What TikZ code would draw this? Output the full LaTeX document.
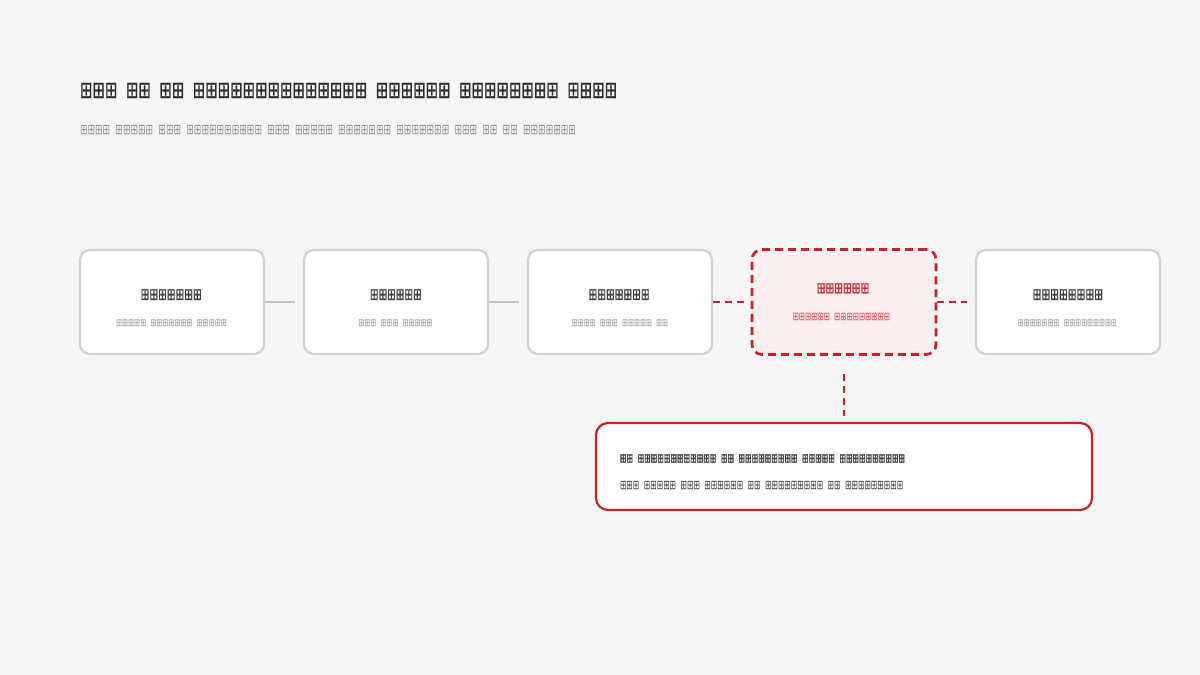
\documentclass[tikz,border=0pt]{standalone}
\usepackage{fontspec}
\usepackage{graphicx}
\setmainfont{DejaVu Sans}
\newfontfamily\tofu[WordSpace=1.8]{DejaVu Sans}
\newfontfamily\tofub[WordSpace=1.8,FakeBold=1.5]{DejaVu Sans}
\definecolor{bgc}{HTML}{F6F6F6}
\definecolor{cardline}{HTML}{D2D2D2}
\definecolor{linkgray}{HTML}{C2C2C2}
\definecolor{accent}{HTML}{C9202F}
\definecolor{hotfill}{HTML}{FCEFF0}
\definecolor{inkdark}{HTML}{2E2E2E}
\definecolor{inkmid}{HTML}{404040}
\definecolor{inkgray}{HTML}{959595}
\definecolor{inkred}{HTML}{D0303F}
\definecolor{inkredlight}{HTML}{DA4A57}
\newcommand\fitted[3]{\resizebox*{#1}{#2}{#3}}
\begin{document}
\begin{tikzpicture}[x=1pt,y=-1pt,
  stagebox/.style={draw=cardline, line width=2.2pt, fill=white, rounded corners=10pt,
    minimum width=184pt, minimum height=104pt, inner sep=0pt},
  hotbox/.style={stagebox, draw=accent, fill=hotfill, line width=2.7pt,
    dash pattern=on 8pt off 5pt, minimum width=184pt, minimum height=105pt},
  callbox/.style={draw=accent, line width=2.2pt, fill=white, rounded corners=12pt,
    minimum width=496pt, minimum height=87pt, inner sep=0pt},
  txt/.style={inner sep=0pt, outer sep=0pt},
  link/.style={draw=linkgray, line width=2.6pt},
  hotlink/.style={draw=accent, line width=2.8pt, dash pattern=on 7pt off 5pt}]
\useasboundingbox (0,0) rectangle (1200,675);
\fill[bgc] (0,0) rectangle (1200,675);

% heading
\node[txt, anchor=west, text=inkdark] (title) at (80,90.5)
  {\fitted{537pt}{15pt}{\tofub ⊞⊞⊞ ⊞⊞ ⊞⊞ ⊞⊞⊞⊞⊞⊞⊞⊞⊞⊞⊞⊞⊞⊞ ⊞⊞⊞⊞⊞⊞ ⊞⊞⊞⊞⊞⊞⊞⊞ ⊞⊞⊞⊞}};
\node[txt, anchor=west, text=inkgray] (subtitle) at (80,130.3)
  {\fitted{496pt}{9.3pt}{\tofu ⊞⊞⊞⊞ ⊞⊞⊞⊞⊞ ⊞⊞⊞ ⊞⊞⊞⊞⊞⊞⊞⊞⊞⊞ ⊞⊞⊞ ⊞⊞⊞⊞⊞ ⊞⊞⊞⊞⊞⊞⊞ ⊞⊞⊞⊞⊞⊞⊞ ⊞⊞⊞ ⊞⊞ ⊞⊞ ⊞⊞⊞⊞⊞⊞⊞}};

% stage cards
\node[stagebox] (s1) at (172,302) {};
\node[stagebox] (s2) at (396,302) {};
\node[stagebox] (s3) at (620,302) {};
\node[hotbox]   (s4) at (844,302) {};
\node[stagebox] (s5) at (1068,302) {};

% connectors
\draw[link] (s1.east) -- ([xshift=-8pt]s2.west);
\draw[link] (s2.east) -- ([xshift=-8pt]s3.west);
\draw[hotlink] (s3.east) -- ([xshift=-2pt]s4.west);
\draw[hotlink] (s4.east) -- ([xshift=-8pt]s5.west);

% card texts
\node[txt, text=inkmid] (t1) at (171.2,294.6) {\fitted{61pt}{10.7pt}{\tofub ⊞⊞⊞⊞⊞⊞⊞}};
\node[txt, text=inkgray] (u1) at (171.5,323.3) {\fitted{110.7pt}{6.7pt}{\tofu ⊞⊞⊞⊞⊞ ⊞⊞⊞⊞⊞⊞⊞ ⊞⊞⊞⊞⊞}};
\node[txt, text=inkmid] (t2) at (395.8,294.6) {\fitted{51.7pt}{10.7pt}{\tofub ⊞⊞⊞⊞⊞⊞}};
\node[txt, text=inkgray] (u2) at (395.5,323.3) {\fitted{74.3pt}{6.7pt}{\tofu ⊞⊞⊞ ⊞⊞⊞ ⊞⊞⊞⊞⊞}};
\node[txt, text=inkmid] (t3) at (619.1,294.6) {\fitted{61pt}{10.7pt}{\tofub ⊞⊞⊞⊞⊞⊞⊞}};
\node[txt, text=inkgray] (u3) at (620,323.3) {\fitted{96.3pt}{6.7pt}{\tofu ⊞⊞⊞⊞ ⊞⊞⊞ ⊞⊞⊞⊞⊞ ⊞⊞}};
\node[txt, text=inkred] (t4) at (843,288.3) {\fitted{52.6pt}{10pt}{\tofub ⊞⊞⊞⊞⊞⊞}};
\node[txt, text=inkredlight] (u4) at (841.4,317) {\fitted{97.3pt}{7.4pt}{\tofu ⊞⊞⊞⊞⊞⊞ ⊞⊞⊞⊞⊞⊞⊞⊞⊞}};
\node[txt, text=inkmid] (t5) at (1067.8,294.6) {\fitted{70.3pt}{10.7pt}{\tofub ⊞⊞⊞⊞⊞⊞⊞⊞}};
\node[txt, text=inkgray] (u5) at (1067.4,323.3) {\fitted{98.9pt}{6.7pt}{\tofu ⊞⊞⊞⊞⊞⊞⊞ ⊞⊞⊞⊞⊞⊞⊞⊞⊞}};

% callout
\node[callbox] (c) at (844,466.5) {};
\draw[hotlink] ([yshift=-18pt]s4.south) -- ([yshift=6pt]c.north);
\node[txt, anchor=west, text=inkmid] (c1) at (620,458.5)
  {\fitted{285pt}{8.4pt}{\tofub ⊞⊞ ⊞⊞⊞⊞⊞⊞⊞⊞⊞⊞⊞⊞ ⊞⊞ ⊞⊞⊞⊞⊞⊞⊞⊞⊞ ⊞⊞⊞⊞⊞ ⊞⊞⊞⊞⊞⊞⊞⊞⊞⊞}};
\node[txt, anchor=west, text=inkmid] (c2) at (620,485.2)
  {\fitted{283.3pt}{8.3pt}{\tofu ⊞⊞⊞ ⊞⊞⊞⊞⊞ ⊞⊞⊞ ⊞⊞⊞⊞⊞⊞ ⊞⊞ ⊞⊞⊞⊞⊞⊞⊞⊞⊞ ⊞⊞ ⊞⊞⊞⊞⊞⊞⊞⊞⊞}};
\end{tikzpicture}
\end{document}
